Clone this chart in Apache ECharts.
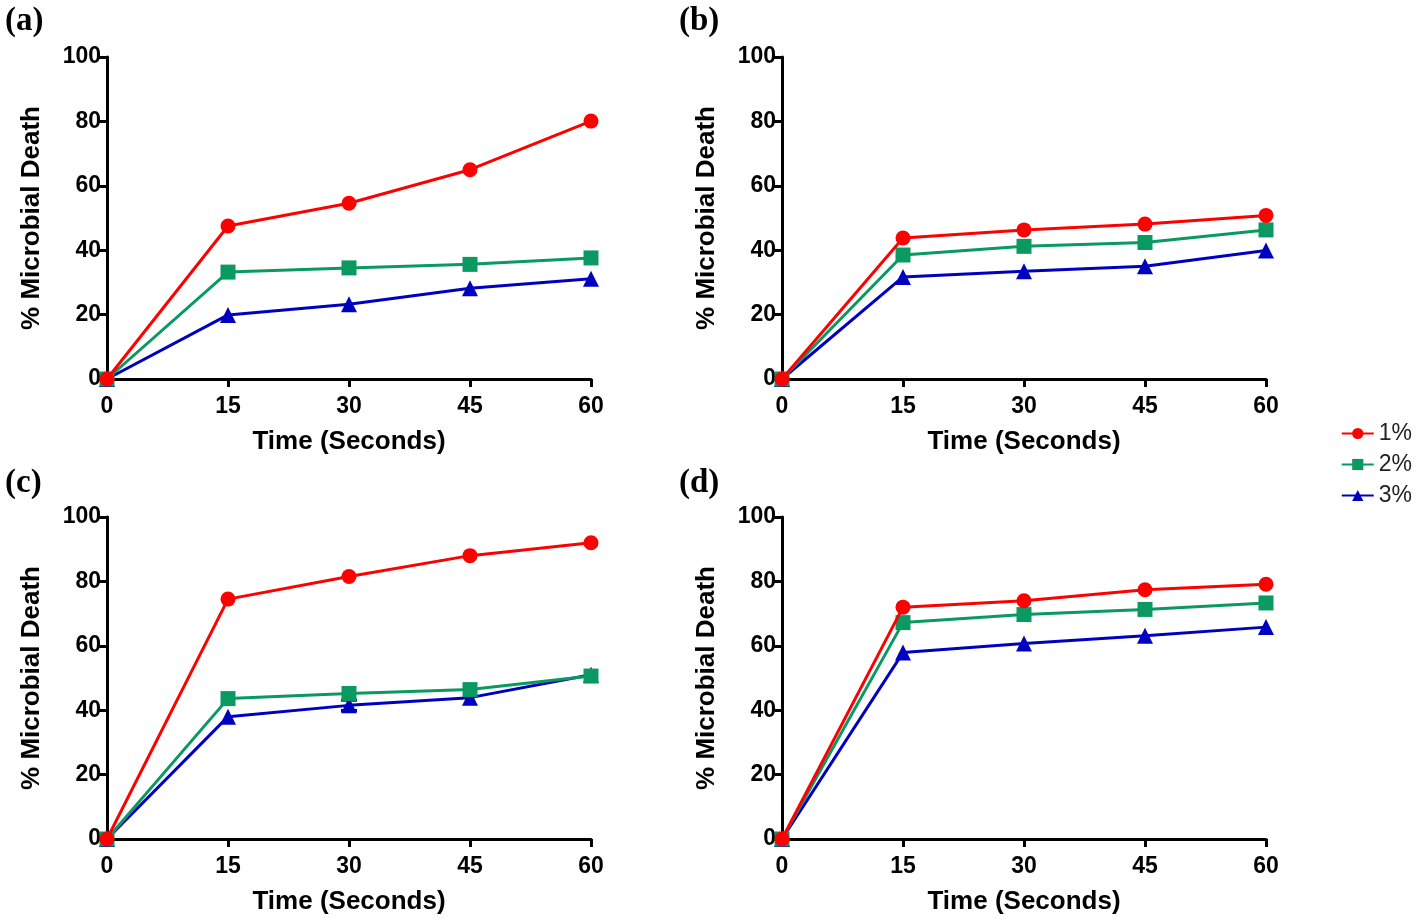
<!DOCTYPE html>
<html><head><meta charset="utf-8">
<script src="https://cdn.jsdelivr.net/npm/echarts@6/dist/echarts.min.js"></script>
<style>html,body{margin:0;padding:0;background:#fff}#c{width:1416px;height:919px}</style>
</head><body><div id="c"></div>
<script>
const times = [0, 15, 30, 45, 60];
const seriesNames = ['1%', '2%', '3%'];
const panelLabels = ['(a)', '(b)', '(c)', '(d)'];
const yTicks = [0, 20, 40, 60, 80, 100];

const a1 = [0, 47.5, 54.6, 65.0, 80.1];
const a2 = [0, 33.2, 34.5, 35.6, 37.6];
const a3 = [0, 19.9, 23.2, 28.2, 31.1];

const b1 = [0, 43.8, 46.3, 48.1, 50.8];
const b2 = [0, 38.5, 41.2, 42.4, 46.3];
const b3 = [0, 31.7, 33.5, 35.0, 39.9];

const c1 = [0, 74.5, 81.5, 88.0, 92.0];
const c2 = [0, 43.6, 45.2, 46.4, 50.6];
const c3 = [0, 38.0, 41.5, 43.9, 51.0];
const c3err = [0, 0, 1.6, 0, 0];

const d1 = [0, 72.0, 74.0, 77.4, 79.1];
const d2 = [0, 67.2, 69.7, 71.3, 73.3];
const d3 = [0, 57.9, 60.7, 63.1, 65.8];

const panels = [[a1, a2, a3], [b1, b2, b3], [c1, c2, c3], [d1, d2, d3]];
const colors = ['#ff0000', '#0a9960', '#0000c0'];
const symbols = ['circle', 'rect', 'triangle'];

const gridPos = [
  {left: 107, top: 57}, {left: 782, top: 57},
  {left: 107, top: 517}, {left: 782, top: 517}
];
const gw = 484, gh = 322;
const font = 'Liberation Sans, Arial, sans-serif';

const grids = gridPos.map(p => ({left: p.left, top: p.top, width: gw, height: gh}));
const xAxes = gridPos.map((p, i) => ({
  type: 'value', gridIndex: i, min: 0, max: 60, interval: 15,
  name: 'Time (Seconds)', nameLocation: 'middle', nameGap: 50,
  nameTextStyle: {fontFamily: font, fontWeight: 'bold', fontSize: 26, color: '#000'},
  axisLine: {show: true, lineStyle: {color: '#000', width: 3}},
  axisTick: {show: true, length: 8, lineStyle: {color: '#000', width: 3}},
  axisLabel: {fontFamily: font, fontWeight: 'bold', fontSize: 23, color: '#000', margin: 16},
  splitLine: {show: false}
}));
const yAxes = gridPos.map((p, i) => ({
  type: 'value', gridIndex: i, min: 0, max: 100, interval: 20,
  name: '% Microbial Death', nameLocation: 'middle', nameGap: 62,
  nameTextStyle: {fontFamily: font, fontWeight: 'bold', fontSize: 26, color: '#000'},
  axisLine: {show: true, lineStyle: {color: '#000', width: 3}},
  axisTick: {show: true, length: 8, lineStyle: {color: '#000', width: 3}},
  axisLabel: {fontFamily: font, fontWeight: 'bold', fontSize: 23, color: '#000', margin: 6},
  splitLine: {show: false}
}));

const series = [];
panels.forEach((vals, pi) => {
  vals.forEach((v, si) => {
    series.push({
      type: 'line', name: seriesNames[si], xAxisIndex: pi, yAxisIndex: pi,
      data: times.map((t, k) => [t, v[k]]),
      symbol: symbols[si], symbolSize: si === 2 ? 16 : 15,
      lineStyle: {color: colors[si], width: 3},
      itemStyle: {color: colors[si]},
      z: 10 - si,
      animation: false
    });
  });
});
// error bars (panel c, 3%)
series.push({
  type: 'custom', name: 'err', xAxisIndex: 2, yAxisIndex: 2, animation: false, z: 5,
  data: times.map((t, k) => [t, c3[k] - c3err[k], c3[k] + c3err[k]]).filter((d, k) => c3err[k] > 0),
  renderItem: function (params, api) {
    const lo = api.coord([api.value(0), api.value(1)]);
    const hi = api.coord([api.value(0), api.value(2)]);
    const w = 8;
    const st = {stroke: colors[2], lineWidth: 3};
    return {type: 'group', children: [
      {type: 'line', shape: {x1: lo[0], y1: lo[1], x2: hi[0], y2: hi[1]}, style: st},
      {type: 'line', shape: {x1: lo[0] - w, y1: lo[1], x2: lo[0] + w, y2: lo[1]}, style: st},
      {type: 'line', shape: {x1: hi[0] - w, y1: hi[1], x2: hi[0] + w, y2: hi[1]}, style: st}
    ]};
  }
});

const titlePos = [{left: 0, top: 0}, {left: 674, top: 0}, {left: 0, top: 462}, {left: 674, top: 462}];
const titles = panelLabels.map((t, i) => ({
  text: t, left: titlePos[i].left, top: titlePos[i].top,
  textStyle: {fontFamily: 'Liberation Serif, Times New Roman, serif', fontWeight: 'bold', fontSize: 33, color: '#000'}
}));

const chart = echarts.init(document.getElementById('c'), null, {renderer: 'canvas'});
chart.setOption({
  backgroundColor: '#fff',
  animation: false,
  title: titles,
  grid: grids,
  xAxis: xAxes,
  yAxis: yAxes,
  legend: {
    data: seriesNames, orient: 'vertical', right: 4, top: 421, padding: 0,
    itemWidth: 32, itemHeight: 14, itemGap: 6,
    textStyle: {fontFamily: font, fontSize: 23, lineHeight: 25, color: '#222'}
  },
  series: series
});
</script></body></html>
